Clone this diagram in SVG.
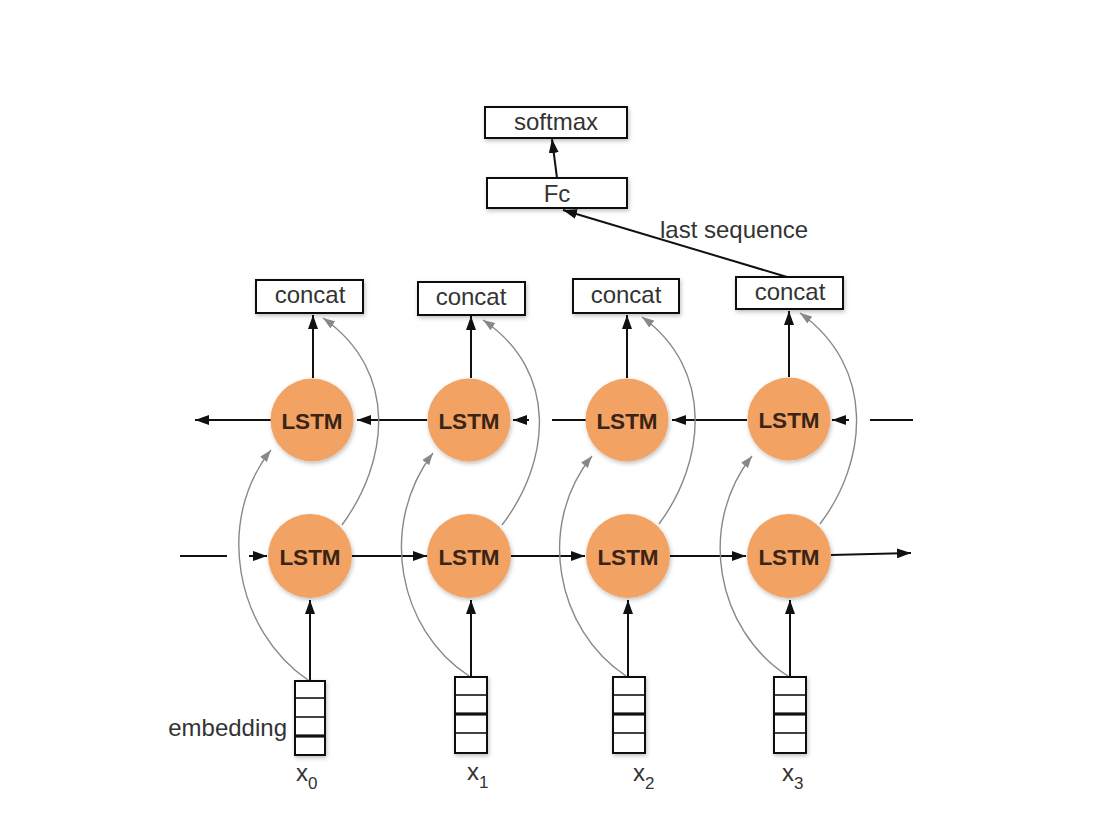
<svg xmlns="http://www.w3.org/2000/svg" width="1098" height="818" viewBox="0 0 1098 818">
  <defs>
    <marker id="arrow" viewBox="0 0 14 10" refX="14" refY="5" markerWidth="14" markerHeight="10" markerUnits="userSpaceOnUse" orient="auto">
      <path d="M0,0 L14,5 L0,10 z" fill="#111"/>
    </marker>
    <marker id="arrow-gray" viewBox="0 0 14 10" refX="14" refY="5" markerWidth="12" markerHeight="9" markerUnits="userSpaceOnUse" orient="auto">
      <path d="M0,0 L14,5 L0,10 z" fill="#888"/>
    </marker>
    <filter id="shadow" x="-20%" y="-20%" width="140%" height="150%">
      <feDropShadow dx="1" dy="2" stdDeviation="2" flood-color="#000" flood-opacity="0.25"/>
    </filter>
    <style>
      .box { fill: #fff; stroke: #111; stroke-width: 2; filter: url(#shadow); }
      .cell { fill: #fff; stroke: #111; stroke-width: 1.6; }
      .thick { stroke: #111; stroke-width: 3.2; }
      .lstm { fill: #F2A263; filter: url(#shadow); }
      .label { font-family: "Liberation Sans", Arial, sans-serif; font-size: 24px; fill: #333; }
      .lstm-text { font-family: "Liberation Sans", Arial, sans-serif; font-size: 22.5px; font-weight: bold; fill: #3a2416; text-anchor: middle; }
      .center { text-anchor: middle; }
      .sub { font-size: 17px; }
      .link { stroke: #111; stroke-width: 2; fill: none; }
      .skip { stroke: #888; stroke-width: 1.4; fill: none; }
    </style>
  </defs>

  <rect width="1098" height="818" fill="#fff"/>

  <!-- connectors -->
  <g id="connectors">
    <!-- head: Fc to softmax, last step to Fc -->
    <line class="link" x1="557" y1="178" x2="552" y2="139" marker-end="url(#arrow)"/>
    <line class="link" x1="787" y1="277" x2="563" y2="210" marker-end="url(#arrow)"/>

    <!-- backward LSTM row (right to left) -->
    <line class="link" x1="271" y1="420" x2="195" y2="420" marker-end="url(#arrow)"/>
    <line class="link" x1="427" y1="420" x2="357" y2="420" marker-end="url(#arrow)"/>
    <line class="link" x1="586" y1="420" x2="552" y2="420"/>
    <line class="link" x1="529" y1="420" x2="513" y2="420" marker-end="url(#arrow)"/>
    <line class="link" x1="747" y1="420" x2="672" y2="420" marker-end="url(#arrow)"/>
    <line class="link" x1="913" y1="420" x2="870" y2="420" stroke="#555"/>
    <line class="link" x1="849" y1="420" x2="832" y2="420" marker-end="url(#arrow)"/>

    <!-- forward LSTM row (left to right) -->
    <line class="link" x1="180" y1="556" x2="227" y2="556" stroke="#555"/>
    <line class="link" x1="249" y1="556" x2="267" y2="556" marker-end="url(#arrow)"/>
    <line class="link" x1="352" y1="556" x2="427" y2="556" marker-end="url(#arrow)"/>
    <line class="link" x1="511" y1="556" x2="585" y2="556" marker-end="url(#arrow)"/>
    <line class="link" x1="670" y1="556" x2="746" y2="556" marker-end="url(#arrow)"/>
    <line class="link" x1="831" y1="555" x2="911" y2="553" marker-end="url(#arrow)"/>

    <!-- backward LSTM to concat -->
    <line class="link" x1="313" y1="378" x2="313" y2="315" marker-end="url(#arrow)"/>
    <line class="link" x1="471" y1="378" x2="471" y2="316" marker-end="url(#arrow)"/>
    <line class="link" x1="627" y1="378" x2="627" y2="315" marker-end="url(#arrow)"/>
    <line class="link" x1="789" y1="377" x2="789" y2="311" marker-end="url(#arrow)"/>

    <!-- embedding to forward LSTM -->
    <line class="link" x1="310" y1="681" x2="310" y2="600" marker-end="url(#arrow)"/>
    <line class="link" x1="471" y1="677" x2="471" y2="600" marker-end="url(#arrow)"/>
    <line class="link" x1="628" y1="677" x2="628" y2="600" marker-end="url(#arrow)"/>
    <line class="link" x1="790" y1="677" x2="790" y2="600" marker-end="url(#arrow)"/>

    <!-- embedding to backward LSTM (skip curves) -->
    <path class="skip" d="M308,680 C235,630 215,520 271,450" marker-end="url(#arrow-gray)"/>
    <path class="skip" d="M469,676 C398,630 378,525 433,453" marker-end="url(#arrow-gray)"/>
    <path class="skip" d="M626,676 C556,630 536,525 592,456" marker-end="url(#arrow-gray)"/>
    <path class="skip" d="M788,676 C716,630 697,525 752,456" marker-end="url(#arrow-gray)"/>

    <!-- forward LSTM to concat (skip curves) -->
    <path class="skip" d="M342,525 C388,462 400,372 323,318" marker-end="url(#arrow-gray)"/>
    <path class="skip" d="M502,525 C550,462 560,372 483,320" marker-end="url(#arrow-gray)"/>
    <path class="skip" d="M659,524 C705,462 715,370 642,317" marker-end="url(#arrow-gray)"/>
    <path class="skip" d="M820,524 C867,462 877,368 800,313" marker-end="url(#arrow-gray)"/>
  </g>

  <!-- output head -->
  <g id="softmax">
    <rect class="box" x="485" y="107" width="142" height="31"/>
    <text class="label center" x="556" y="130">softmax</text>
  </g>
  <g id="fc">
    <rect class="box" x="487" y="178" width="140" height="30"/>
    <text class="label center" x="557" y="202">Fc</text>
  </g>
  <text id="last-sequence" class="label" x="660" y="238">last sequence</text>

  <!-- concat nodes -->
  <g id="concat0">
    <rect class="box" x="256" y="280" width="107" height="33"/>
    <text class="label center" x="310" y="303">concat</text>
  </g>
  <g id="concat1">
    <rect class="box" x="418" y="282" width="107" height="33"/>
    <text class="label center" x="471" y="305">concat</text>
  </g>
  <g id="concat2">
    <rect class="box" x="573" y="279" width="106" height="34"/>
    <text class="label center" x="626" y="303">concat</text>
  </g>
  <g id="concat3">
    <rect class="box" x="736" y="277" width="107" height="32"/>
    <text class="label center" x="790" y="300">concat</text>
  </g>

  <!-- backward LSTM cells -->
  <g id="lstm-b0">
    <circle class="lstm" cx="312" cy="420" r="41.5"/>
    <text class="lstm-text" x="312" y="428.5">LSTM</text>
  </g>
  <g id="lstm-b1">
    <circle class="lstm" cx="469" cy="420" r="41.5"/>
    <text class="lstm-text" x="469" y="428.5">LSTM</text>
  </g>
  <g id="lstm-b2">
    <circle class="lstm" cx="627" cy="420" r="41.5"/>
    <text class="lstm-text" x="627" y="428.5">LSTM</text>
  </g>
  <g id="lstm-b3">
    <circle class="lstm" cx="789" cy="419" r="41.5"/>
    <text class="lstm-text" x="789" y="427.5">LSTM</text>
  </g>

  <!-- forward LSTM cells -->
  <g id="lstm-f0">
    <circle class="lstm" cx="310" cy="556" r="42"/>
    <text class="lstm-text" x="310" y="564.5">LSTM</text>
  </g>
  <g id="lstm-f1">
    <circle class="lstm" cx="469" cy="556" r="42"/>
    <text class="lstm-text" x="469" y="564.5">LSTM</text>
  </g>
  <g id="lstm-f2">
    <circle class="lstm" cx="628" cy="556" r="42"/>
    <text class="lstm-text" x="628" y="564.5">LSTM</text>
  </g>
  <g id="lstm-f3">
    <circle class="lstm" cx="789" cy="556" r="42"/>
    <text class="lstm-text" x="789" y="564.5">LSTM</text>
  </g>

  <!-- embedding vectors -->
  <g id="embed0">
    <rect class="box" x="295" y="681" width="30" height="74"/>
    <line class="cell" x1="295" y1="698" x2="325" y2="698"/>
    <line class="cell" x1="295" y1="717" x2="325" y2="717"/>
    <line class="thick" x1="295" y1="736" x2="325" y2="736"/>
    <text class="label" x="287" y="736" text-anchor="end">embedding</text>
    <text class="label" x="296" y="781">x<tspan class="sub" dy="8">0</tspan></text>
  </g>
  <g id="embed1">
    <rect class="box" x="455" y="677" width="32" height="76"/>
    <line class="cell" x1="455" y1="695" x2="487" y2="695"/>
    <line class="thick" x1="455" y1="714" x2="487" y2="714"/>
    <line class="cell" x1="455" y1="733" x2="487" y2="733"/>
    <text class="label" x="467" y="780">x<tspan class="sub" dy="8">1</tspan></text>
  </g>
  <g id="embed2">
    <rect class="box" x="613" y="677" width="32" height="76"/>
    <line class="cell" x1="613" y1="695" x2="645" y2="695"/>
    <line class="thick" x1="613" y1="714" x2="645" y2="714"/>
    <line class="cell" x1="613" y1="733" x2="645" y2="733"/>
    <text class="label" x="633" y="781">x<tspan class="sub" dy="8">2</tspan></text>
  </g>
  <g id="embed3">
    <rect class="box" x="774" y="677" width="32" height="76"/>
    <line class="cell" x1="774" y1="695" x2="806" y2="695"/>
    <line class="thick" x1="774" y1="714" x2="806" y2="714"/>
    <line class="cell" x1="774" y1="733" x2="806" y2="733"/>
    <text class="label" x="782" y="781">x<tspan class="sub" dy="8">3</tspan></text>
  </g>
</svg>
